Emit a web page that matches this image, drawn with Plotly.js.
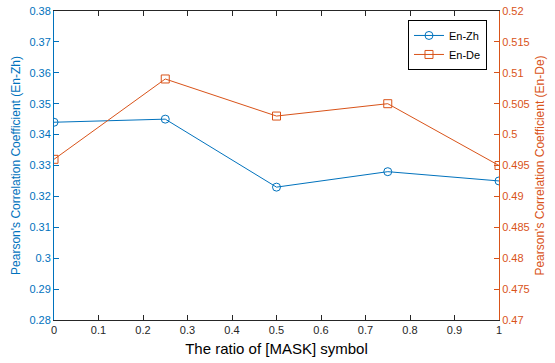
<!DOCTYPE html>
<html><head><meta charset="utf-8">
<script src="https://cdn.plot.ly/plotly-3.0.1.min.js"></script>
<style>html,body{margin:0;padding:0;background:#fff}#c{width:555px;height:363px}</style>
</head><body><div id="c"></div>
<script>
const ratios = [0, 0.25, 0.5, 0.75, 1];
const enZh = [0.344, 0.345, 0.323, 0.328, 0.325];
const enDe = [0.496, 0.509, 0.503, 0.505, 0.495];
const xTicks = [0,0.1,0.2,0.3,0.4,0.5,0.6,0.7,0.8,0.9,1];
const xTickText = ['0','0.1','0.2','0.3','0.4','0.5','0.6','0.7','0.8','0.9','1'];
const y1Ticks = [0.28,0.29,0.3,0.31,0.32,0.33,0.34,0.35,0.36,0.37,0.38];
const y1TickText = ['0.28','0.29','0.3','0.31','0.32','0.33','0.34','0.35','0.36','0.37','0.38'];
const y2Ticks = [0.47,0.475,0.48,0.485,0.49,0.495,0.5,0.505,0.51,0.515,0.52];
const y2TickText = ['0.47','0.475','0.48','0.485','0.49','0.495','0.5','0.505','0.51','0.515','0.52'];

const blue = '#0072BD', orange = '#D95319', dark = '#262626';
const font = 'Liberation Sans, Arial, sans-serif';

const data = [
  {x: ratios, y: enZh, name: 'En-Zh', type: 'scatter', mode: 'lines+markers',
   line: {color: blue, width: 1}, marker: {symbol: 'circle-open', size: 8, color: blue, line: {width: 1}}},
  {x: ratios, y: enDe, name: 'En-De', type: 'scatter', mode: 'lines+markers', yaxis: 'y2',
   line: {color: orange, width: 1}, marker: {symbol: 'square-open', size: 8, color: orange, line: {width: 1}}}
];

const layout = {
  width: 555, height: 363,
  margin: {l: 54, r: 56, t: 11, b: 43},
  paper_bgcolor: '#fff', plot_bgcolor: '#fff',
  font: {family: font, size: 11, color: dark},
  showlegend: true,
  legend: {x: 0.973, y: 0.971, xanchor: 'right', yanchor: 'top', bgcolor: '#fff',
           bordercolor: '#000', borderwidth: 1, font: {size: 11, color: '#000'}, tracegroupgap: 0},
  xaxis: {range: [0, 1], tickvals: xTicks, ticktext: xTickText, ticks: 'inside', ticklen: 5,
          tickcolor: dark, showline: true, linecolor: dark, linewidth: 1, mirror: 'ticks',
          showgrid: false, zeroline: false, tickfont: {size: 11, color: dark},
          title: {text: 'The ratio of [MASK] symbol', font: {size: 15, color: '#000'}, standoff: 8}},
  yaxis: {range: [0.28, 0.38], tickvals: y1Ticks, ticktext: y1TickText, ticks: 'inside', ticklen: 5,
          tickcolor: blue, showline: true, linecolor: blue, linewidth: 1, showgrid: false, zeroline: false,
          tickfont: {size: 11, color: blue},
          title: {text: "Pearson's Correlation Coefficient (En-Zh)", font: {size: 12, color: blue}, standoff: 6}},
  yaxis2: {range: [0.47, 0.52], tickvals: y2Ticks, ticktext: y2TickText, ticks: 'inside', ticklen: 5,
           overlaying: 'y', side: 'right', tickcolor: orange, showline: true, linecolor: orange, linewidth: 1,
           showgrid: false, zeroline: false, tickfont: {size: 11, color: orange},
           title: {text: "Pearson's Correlation Coefficient (En-De)", font: {size: 12, color: orange}, standoff: 6}}
};

Plotly.newPlot('c', data, layout, {displayModeBar: false, staticPlot: true});
</script></body></html>
